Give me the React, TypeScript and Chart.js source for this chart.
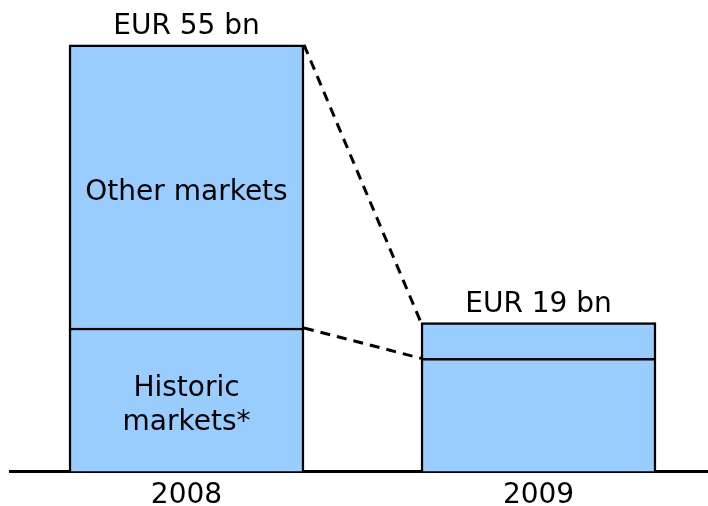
import React, { useEffect, useRef } from 'react';
import { Chart, registerables } from 'chart.js';

Chart.register(...registerables);

const years = ['2008', '2009'];
const historic = [18.5, 14.6];
const other = [36.5, 4.6];
const totalLabels = ['EUR 55 bn', 'EUR 19 bn'];
const otherLabel = 'Other markets';
const historicLabel = ['Historic', 'markets*'];

const FONT = '"DejaVu Sans", Verdana, sans-serif';
const FILL = '#99CCFF';
const FS = 28;

const overlayPlugin = {
  id: 'overlay',
  afterDatasetsDraw(chart: any) {
    const ctx = chart.ctx;
    const m0 = chart.getDatasetMeta(0).data.map((e: any) => e.getProps(['x', 'y', 'base', 'width'], true));
    const m1 = chart.getDatasetMeta(1).data.map((e: any) => e.getProps(['x', 'y', 'base', 'width'], true));
    ctx.save();
    ctx.strokeStyle = '#000';
    ctx.lineWidth = 3;
    ctx.setLineDash([10, 7]);
    [m0, m1].forEach((m: any[]) => {
      ctx.beginPath();
      ctx.moveTo(m[0].x + m[0].width / 2, m[0].y);
      ctx.lineTo(m[1].x - m[1].width / 2, m[1].y);
      ctx.stroke();
    });
    ctx.setLineDash([]);
    ctx.fillStyle = '#000';
    ctx.font = `${FS}px ${FONT}`;
    ctx.textAlign = 'center';
    ctx.textBaseline = 'alphabetic';
    const cap = FS * 0.73;
    m1.forEach((b: any, i: number) => {
      ctx.fillText(totalLabels[i], b.x, b.y - 11);
    });
    const o = m1[0];
    const oc = (o.y + o.base) / 2 + 3;
    ctx.fillText(otherLabel, o.x, oc + cap / 2);
    const h = m0[0];
    const hc = (h.y + h.base) / 2 + 3;
    const lh = 34;
    historicLabel.forEach((t, i) => {
      const cy = hc + (i - (historicLabel.length - 1) / 2) * lh;
      ctx.fillText(t, h.x, cy + cap / 2);
    });
    ctx.restore();
  },
};

export default function App() {
  const ref = useRef<HTMLCanvasElement>(null);
  useEffect(() => {
    const chart = new Chart(ref.current!, {
      type: 'bar',
      data: {
        datasets: [
          {
            label: 'Historic markets',
            data: years.map((_, i) => ({ x: i, y: historic[i] })),
            backgroundColor: FILL,
            borderColor: '#000',
            borderWidth: 2.5,
            barThickness: 235,
          },
          {
            label: 'Other markets',
            data: years.map((_, i) => ({ x: i, y: other[i] })),
            backgroundColor: FILL,
            borderColor: '#000',
            borderWidth: 2.5,
            barThickness: 235,
          },
        ],
      },
      options: {
        animation: false,
        responsive: false,
        maintainAspectRatio: false,
        layout: { padding: { top: 6, left: 10, right: 0, bottom: -14 } },
        plugins: { legend: { display: false }, tooltip: { enabled: false } },
        scales: {
          x: {
            type: 'linear',
            stacked: true,
            offset: false,
            min: -0.5014,
            max: 1.4815,
            afterBuildTicks: (scale: any) => {
              scale.ticks = years.map((_, i) => ({ value: i }));
            },
            ticks: {
              callback: (v: any) => years[v as number] ?? '',
              color: '#000',
              font: { family: FONT, size: FS, lineHeight: 0.8 },
              padding: 13,
              maxRotation: 0,
              autoSkip: false,
            },
            grid: { display: false, drawTicks: false },
            border: { display: true, color: '#000', width: 3 },
          },
          y: {
            stacked: true,
            display: false,
            min: 0,
            max: 60,
          },
        },
      },
      plugins: [overlayPlugin],
    });
    return () => chart.destroy();
  }, []);
  return (
    <div style={{ position: 'fixed', left: 0, top: 0, width: 708, height: 506, background: '#fff' }}>
      <canvas ref={ref} width={708} height={506} style={{ display: 'block', width: 708, height: 506 }} />
    </div>
  );
}
